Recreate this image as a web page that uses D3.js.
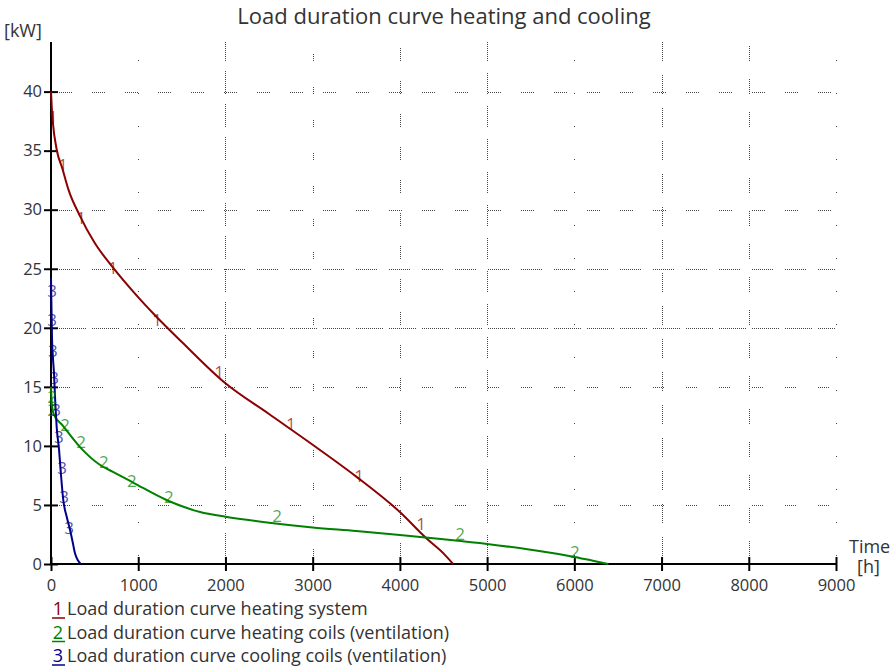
<!DOCTYPE html>
<head>
  <meta charset="utf-8">
  <script src="https://d3js.org/d3.v7.min.js"></script>
  <style>
    body { margin:0; background:#fff; }
    text { font-family: 'Open Sans', 'Noto Sans', sans-serif; fill: #333; }
    .axis path, .axis line { stroke: #000; stroke-width: 2px; }
    .axis text { font-size: 16.5px; fill: #333; }
    .grid-line { stroke: #444; stroke-width: 1px; shape-rendering: crispEdges; fill: none; }
    .curve { fill: none; stroke-width: 2px; stroke-linejoin: round; }
    .mark { font-size: 17px; text-anchor: middle; dominant-baseline: central; fill-opacity: 0.7; }
    .legend text { font-size: 18px; }
  </style>
</head>
<body>
  <script>
    // values: [hours, kW]
    var heatingSystem = [[0,40],[10,38.5],[20,37.5],[65,35.1],[130,33.5],[200,31.7],[330,29.5],[500,27.2],
      [700,25.2],[950,23],[1200,21],[1500,18.8],[2000,15.3],[2500,12.7],[3000,10.1],[3500,7.4],
      [4000,4.4],[4300,2.2],[4500,0.9],[4610,0]];
    var heatingCoils = [[0,15],[10,13.5],[30,12.7],[126,11.8],[333,9.9],[560,8.4],[710,7.8],[940,6.9],
      [1330,5.4],[1710,4.4],[2000,4.0],[2500,3.5],[3000,3.1],[3500,2.8],[4000,2.46],[4500,2.1],
      [5000,1.7],[5500,1.2],[6000,0.6],[6200,0.3],[6390,0]];
    var coolingCoils = [[0,24.2],[5,22],[12,19],[22,17.5],[34,16.2],[50,13.5],[65,11.6],[92,9.7],
      [115,7.5],[141,5.4],[180,4],[218,2.9],[250,1.8],[275,0.9],[310,0.3],[340,0]];

    // numbered markers along the curves
    var heatingSystemMarks = [[11,37.9],[126,33.8],[333,29.3],[699,25.1],[1204,20.7],[1915,16.3],[2740,11.9],[3520,7.5],[4231,3.4]];
    var heatingCoilsMarks = [[0,14.2],[0,13.1],[149,11.8],[333,10.4],[596,8.7],[917,7.1],[1341,5.7],[2580,4.1],[4678,2.6],[5996,1.1]];
    var coolingCoilsMarks = [[0,23.2],[0,20.7],[11,18.1],[23,15.8],[46,13.1],[80,10.8],[115,8.2],[138,5.7],[195,3.1]];

    var seriesNames = ["Load duration curve heating system",
      "Load duration curve heating coils (ventilation)",
      "Load duration curve cooling coils (ventilation)"];
    var seriesColours = ["#8b0000", "#008000", "#00008b"];

    var xTicks = [0,1000,2000,3000,4000,5000,6000,7000,8000,9000];
    var yTicks = [0,5,10,15,20,25,30,35,40];

    var W = 890, H = 668;
    var margin = {top: 42, right: 54, bottom: 104, left: 51};

    var svg = d3.select("body").append("svg")
        .attr("width", W)
        .attr("height", H);

    var x = d3.scaleLinear().domain([0, 9000]).range([margin.left, W - margin.right]);
    var y = d3.scaleLinear().domain([0, 44.2]).range([H - margin.bottom, margin.top]);

    // grid segments look like little dotted dashes, of varying length
    function dotted(seg, period) {
      var arr = [];
      var n = Math.max(1, Math.floor(seg / 2));
      for (var i = 0; i < n; i++) arr.push(1, 1);
      arr[arr.length - 1] += period - 2 * n;
      return arr.join(",");
    }
    var vSeg = {1000: 2, 2000: 25, 3000: 9, 4000: 15, 5000: 22, 6000: 1, 7000: 20, 8000: 16, 9000: 3};
    var hSeg = {5: 12, 10: 0, 15: 12, 20: 28, 25: 22, 30: 15, 35: 0, 40: 15};

    var grid = svg.append("g");
    grid.selectAll(".v")
      .data(xTicks.filter(d => d > 0))
      .enter().append("line")
        .attr("class", "grid-line")
        .attr("x1", d => Math.round(x(d)) + 0.5)
        .attr("x2", d => Math.round(x(d)) + 0.5)
        .attr("y1", y(0) - 8)
        .attr("y2", margin.top)
        .attr("stroke-dasharray", d => dotted(vSeg[d], 33));

    grid.selectAll(".h")
      .data(yTicks.filter(d => d > 0 && hSeg[d] > 0))
      .enter().append("line")
        .attr("class", "grid-line")
        .attr("y1", d => Math.round(y(d)) + 0.5)
        .attr("y2", d => Math.round(y(d)) + 0.5)
        .attr("x1", x(0) + 8)
        .attr("x2", x(9000))
        .attr("stroke-dasharray", d => dotted(hSeg[d], 33));

    // axes
    var xAxis = d3.axisBottom(x).tickValues(xTicks).tickFormat(d3.format("d"))
      .tickSizeInner(7).tickSizeOuter(0).tickPadding(8);
    var yAxis = d3.axisLeft(y).tickValues(yTicks).tickFormat(d3.format("d"))
      .tickSizeInner(7).tickSizeOuter(0).tickPadding(7);

    var gx = svg.append("g")
        .attr("class", "axis")
        .attr("transform", "translate(0," + y(0) + ")")
        .call(xAxis);
    gx.select(".domain").attr("d", "M" + x(0) + ",0H" + x(9000));
    gx.selectAll(".tick line").attr("y1", -7);

    var gy = svg.append("g")
        .attr("class", "axis")
        .attr("transform", "translate(" + x(0) + ",0)")
        .call(yAxis);
    gy.select(".domain").attr("d", "M0," + y(0) + "V" + margin.top);
    gy.selectAll(".tick line").attr("x1", 7);
    gy.selectAll(".tick text").attr("x", -9);

    // curves
    var line = d3.line()
      .x(d => x(d[0]))
      .y(d => y(d[1]))
      .curve(d3.curveMonotoneX);

    var curves = [heatingSystem, heatingCoils, coolingCoils];
    var marks = [heatingSystemMarks, heatingCoilsMarks, coolingCoilsMarks];

    svg.append("g").selectAll("path")
      .data(curves)
      .enter().append("path")
        .attr("class", "curve")
        .attr("d", line)
        .style("stroke", (d, i) => seriesColours[i]);

    marks.forEach(function(m, i) {
      svg.append("g").selectAll("text")
        .data(m)
        .enter().append("text")
          .attr("class", "mark")
          .attr("x", d => x(d[0]) + 1)
          .attr("y", d => y(d[1]))
          .style("fill", seriesColours[i])
          .text(i + 1);
    });

    // titles
    svg.append("text")
      .attr("x", 444)
      .attr("y", 24)
      .attr("text-anchor", "middle")
      .style("font-size", "22px")
      .text("Load duration curve heating and cooling");

    svg.append("text")
      .attr("x", 4)
      .attr("y", 37)
      .style("font-size", "18px")
      .text("[kW]");

    svg.append("text")
      .attr("x", 849)
      .attr("y", 553)
      .style("font-size", "18px")
      .text("Time");
    svg.append("text")
      .attr("x", 857)
      .attr("y", 573)
      .style("font-size", "18px")
      .text("[h]");

    // legend
    var legend = svg.append("g")
        .attr("class", "legend")
        .selectAll("g")
        .data(seriesNames)
        .enter().append("g")
          .attr("transform", (d, i) => "translate(52," + (615 + i * 23.5) + ")");
    legend.append("text")
      .attr("x", 6)
      .attr("text-anchor", "middle")
      .style("fill", (d, i) => seriesColours[i])
      .text((d, i) => i + 1);
    legend.append("line")
      .attr("x1", 0).attr("x2", 13)
      .attr("y1", 3).attr("y2", 3)
      .style("stroke", (d, i) => seriesColours[i])
      .style("stroke-width", 1.5);
    legend.append("text")
      .attr("x", 15)
      .text(d => d);
  </script>
</body>
